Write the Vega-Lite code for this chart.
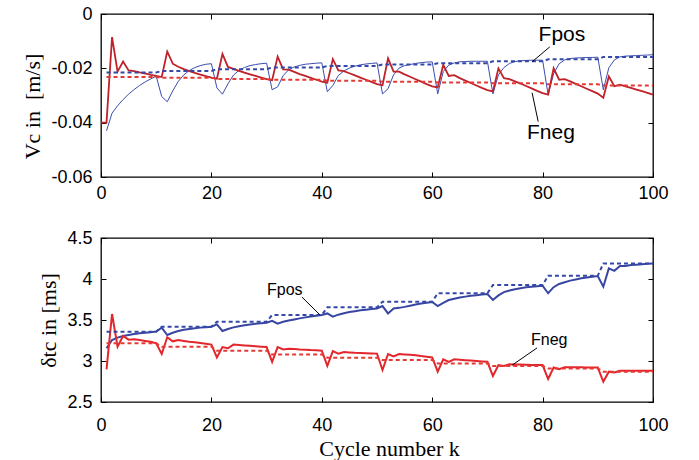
{
  "$schema": "https://vega.github.io/schema/vega-lite/v6.json",
  "background": "white",
  "padding": {"left": 21, "top": 4, "right": 5, "bottom": 1},
  "datasets": {
    "tpos": [
      {"k":1,"v":-0.0430},{"k":2,"v":-0.0365},{"k":3,"v":-0.0338},{"k":4,"v":-0.0315},{"k":5,"v":-0.0295},{"k":6,"v":-0.0278},{"k":7,"v":-0.0263},{"k":8,"v":-0.0250},{"k":9,"v":-0.0239},{"k":10,"v":-0.0229},
      {"k":11,"v":-0.0304},{"k":12,"v":-0.0323},{"k":13,"v":-0.0283},{"k":14,"v":-0.0248},{"k":15,"v":-0.0224},{"k":16,"v":-0.0208},{"k":17,"v":-0.0197},{"k":18,"v":-0.0190},{"k":19,"v":-0.0185},{"k":20,"v":-0.0183},
      {"k":21,"v":-0.0272},{"k":22,"v":-0.0295},{"k":23,"v":-0.0257},{"k":24,"v":-0.0225},{"k":25,"v":-0.0207},{"k":26,"v":-0.0197},{"k":27,"v":-0.0190},{"k":28,"v":-0.0186},{"k":29,"v":-0.0183},{"k":30,"v":-0.0181},
      {"k":31,"v":-0.0279},{"k":32,"v":-0.0268},{"k":33,"v":-0.0227},{"k":34,"v":-0.0205},{"k":35,"v":-0.0195},{"k":36,"v":-0.0189},{"k":37,"v":-0.0185},{"k":38,"v":-0.0183},{"k":39,"v":-0.0181},{"k":40,"v":-0.0180},
      {"k":41,"v":-0.0286},{"k":42,"v":-0.0263},{"k":43,"v":-0.0226},{"k":44,"v":-0.0210},{"k":45,"v":-0.0199},{"k":46,"v":-0.0192},{"k":47,"v":-0.0187},{"k":48,"v":-0.0184},{"k":49,"v":-0.0182},{"k":50,"v":-0.0180},
      {"k":51,"v":-0.0294},{"k":52,"v":-0.0275},{"k":53,"v":-0.0224},{"k":54,"v":-0.0199},{"k":55,"v":-0.0190},{"k":56,"v":-0.0186},{"k":57,"v":-0.0182},{"k":58,"v":-0.0179},{"k":59,"v":-0.0177},{"k":60,"v":-0.0176},
      {"k":61,"v":-0.0294},{"k":62,"v":-0.0212},{"k":63,"v":-0.0188},{"k":64,"v":-0.0180},{"k":65,"v":-0.0176},{"k":66,"v":-0.0175},{"k":67,"v":-0.0174},{"k":68,"v":-0.0174},{"k":69,"v":-0.0174},{"k":70,"v":-0.0174},
      {"k":71,"v":-0.0294},{"k":72,"v":-0.0224},{"k":73,"v":-0.0197},{"k":74,"v":-0.0182},{"k":75,"v":-0.0175},{"k":76,"v":-0.0172},{"k":77,"v":-0.0171},{"k":78,"v":-0.0170},{"k":79,"v":-0.0170},{"k":80,"v":-0.0170},
      {"k":81,"v":-0.0297},{"k":82,"v":-0.0220},{"k":83,"v":-0.0183},{"k":84,"v":-0.0169},{"k":85,"v":-0.0164},{"k":86,"v":-0.0162},{"k":87,"v":-0.0161},{"k":88,"v":-0.0160},{"k":89,"v":-0.0160},{"k":90,"v":-0.0159},
      {"k":91,"v":-0.0279},{"k":92,"v":-0.0198},{"k":93,"v":-0.0169},{"k":94,"v":-0.0158},{"k":95,"v":-0.0155},{"k":96,"v":-0.0154},{"k":97,"v":-0.0153},{"k":98,"v":-0.0152},{"k":99,"v":-0.0151},{"k":100,"v":-0.0150}
    ],
    "tneg": [
      {"k":0,"v":-0.0400},{"k":1,"v":-0.0400},{"k":2,"v":-0.0085},{"k":3,"v":-0.0212},{"k":4,"v":-0.0175},{"k":5,"v":-0.0208},{"k":6,"v":-0.0210},{"k":7,"v":-0.0215},{"k":8,"v":-0.0219},{"k":9,"v":-0.0224},{"k":10,"v":-0.0228},
      {"k":11,"v":-0.0232},{"k":12,"v":-0.0138},{"k":13,"v":-0.0183},{"k":14,"v":-0.0194},{"k":15,"v":-0.0203},{"k":16,"v":-0.0210},{"k":17,"v":-0.0217},{"k":18,"v":-0.0223},{"k":19,"v":-0.0229},{"k":20,"v":-0.0234},
      {"k":21,"v":-0.0238},{"k":22,"v":-0.0147},{"k":23,"v":-0.0195},{"k":24,"v":-0.0202},{"k":25,"v":-0.0209},{"k":26,"v":-0.0216},{"k":27,"v":-0.0222},{"k":28,"v":-0.0228},{"k":29,"v":-0.0234},{"k":30,"v":-0.0240},
      {"k":31,"v":-0.0244},{"k":32,"v":-0.0157},{"k":33,"v":-0.0204},{"k":34,"v":-0.0205},{"k":35,"v":-0.0213},{"k":36,"v":-0.0221},{"k":37,"v":-0.0228},{"k":38,"v":-0.0235},{"k":39,"v":-0.0242},{"k":40,"v":-0.0249},
      {"k":41,"v":-0.0253},{"k":42,"v":-0.0166},{"k":43,"v":-0.0208},{"k":44,"v":-0.0210},{"k":45,"v":-0.0218},{"k":46,"v":-0.0226},{"k":47,"v":-0.0234},{"k":48,"v":-0.0242},{"k":49,"v":-0.0250},{"k":50,"v":-0.0258},
      {"k":51,"v":-0.0262},{"k":52,"v":-0.0163},{"k":53,"v":-0.0212},{"k":54,"v":-0.0212},{"k":55,"v":-0.0222},{"k":56,"v":-0.0231},{"k":57,"v":-0.0240},{"k":58,"v":-0.0249},{"k":59,"v":-0.0258},{"k":60,"v":-0.0266},
      {"k":61,"v":-0.0270},{"k":62,"v":-0.0187},{"k":63,"v":-0.0228},{"k":64,"v":-0.0225},{"k":65,"v":-0.0236},{"k":66,"v":-0.0245},{"k":67,"v":-0.0254},{"k":68,"v":-0.0263},{"k":69,"v":-0.0272},{"k":70,"v":-0.0280},
      {"k":71,"v":-0.0285},{"k":72,"v":-0.0200},{"k":73,"v":-0.0236},{"k":74,"v":-0.0240},{"k":75,"v":-0.0248},{"k":76,"v":-0.0256},{"k":77,"v":-0.0265},{"k":78,"v":-0.0274},{"k":79,"v":-0.0283},{"k":80,"v":-0.0291},
      {"k":81,"v":-0.0297},{"k":82,"v":-0.0200},{"k":83,"v":-0.0242},{"k":84,"v":-0.0240},{"k":85,"v":-0.0248},{"k":86,"v":-0.0257},{"k":87,"v":-0.0266},{"k":88,"v":-0.0275},{"k":89,"v":-0.0284},{"k":90,"v":-0.0293},
      {"k":91,"v":-0.0308},{"k":92,"v":-0.0230},{"k":93,"v":-0.0266},{"k":94,"v":-0.0260},{"k":95,"v":-0.0266},{"k":96,"v":-0.0272},{"k":97,"v":-0.0278},{"k":98,"v":-0.0284},{"k":99,"v":-0.0290},{"k":100,"v":-0.0297}
    ],
    "tposd": [
      {"k":1,"v":-0.0215},{"k":10,"v":-0.0215},{"k":11,"v":-0.0210},{"k":20,"v":-0.0210},{"k":21,"v":-0.0203},{"k":30,"v":-0.0203},{"k":31,"v":-0.0197},{"k":40,"v":-0.0197},{"k":41,"v":-0.0191},{"k":50,"v":-0.0191},
      {"k":51,"v":-0.0186},{"k":60,"v":-0.0186},{"k":61,"v":-0.0181},{"k":70,"v":-0.0181},{"k":71,"v":-0.0174},{"k":80,"v":-0.0174},{"k":81,"v":-0.0167},{"k":90,"v":-0.0167},{"k":91,"v":-0.0158},{"k":100,"v":-0.0158}
    ],
    "tnegd": [
      {"k":1,"v":-0.0232},{"k":10,"v":-0.0232},{"k":11,"v":-0.0235},{"k":20,"v":-0.0235},{"k":21,"v":-0.0239},{"k":30,"v":-0.0239},{"k":31,"v":-0.0242},{"k":40,"v":-0.0242},{"k":41,"v":-0.0246},{"k":50,"v":-0.0246},
      {"k":51,"v":-0.0249},{"k":60,"v":-0.0249},{"k":61,"v":-0.0252},{"k":70,"v":-0.0252},{"k":71,"v":-0.0255},{"k":80,"v":-0.0255},{"k":81,"v":-0.0259},{"k":90,"v":-0.0259},{"k":91,"v":-0.0263},{"k":100,"v":-0.0263}
    ],
    "bpos": [
      {"k":1,"v":3.155},{"k":2,"v":3.256},{"k":3,"v":3.285},{"k":4,"v":3.305},{"k":5,"v":3.318},{"k":6,"v":3.328},{"k":7,"v":3.337},{"k":8,"v":3.345},{"k":9,"v":3.352},{"k":10,"v":3.360},
      {"k":11,"v":3.406},{"k":12,"v":3.317},{"k":13,"v":3.345},{"k":14,"v":3.365},{"k":15,"v":3.380},{"k":16,"v":3.390},{"k":17,"v":3.400},{"k":18,"v":3.407},{"k":19,"v":3.413},{"k":20,"v":3.418},
      {"k":21,"v":3.447},{"k":22,"v":3.366},{"k":23,"v":3.390},{"k":24,"v":3.410},{"k":25,"v":3.425},{"k":26,"v":3.437},{"k":27,"v":3.446},{"k":28,"v":3.454},{"k":29,"v":3.461},{"k":30,"v":3.467},
      {"k":31,"v":3.490},{"k":32,"v":3.456},{"k":33,"v":3.478},{"k":34,"v":3.493},{"k":35,"v":3.507},{"k":36,"v":3.520},{"k":37,"v":3.532},{"k":38,"v":3.542},{"k":39,"v":3.552},{"k":40,"v":3.561},
      {"k":41,"v":3.580},{"k":42,"v":3.540},{"k":43,"v":3.565},{"k":44,"v":3.583},{"k":45,"v":3.597},{"k":46,"v":3.608},{"k":47,"v":3.618},{"k":48,"v":3.626},{"k":49,"v":3.633},{"k":50,"v":3.640},
      {"k":51,"v":3.670},{"k":52,"v":3.580},{"k":53,"v":3.640},{"k":54,"v":3.648},{"k":55,"v":3.660},{"k":56,"v":3.675},{"k":57,"v":3.690},{"k":58,"v":3.700},{"k":59,"v":3.710},{"k":60,"v":3.720},
      {"k":61,"v":3.670},{"k":62,"v":3.710},{"k":63,"v":3.744},{"k":64,"v":3.760},{"k":65,"v":3.775},{"k":66,"v":3.785},{"k":67,"v":3.795},{"k":68,"v":3.803},{"k":69,"v":3.810},{"k":70,"v":3.817},
      {"k":71,"v":3.744},{"k":72,"v":3.800},{"k":73,"v":3.840},{"k":74,"v":3.860},{"k":75,"v":3.875},{"k":76,"v":3.888},{"k":77,"v":3.898},{"k":78,"v":3.905},{"k":79,"v":3.912},{"k":80,"v":3.918},
      {"k":81,"v":3.826},{"k":82,"v":3.900},{"k":83,"v":3.940},{"k":84,"v":3.960},{"k":85,"v":3.980},{"k":86,"v":3.995},{"k":87,"v":4.008},{"k":88,"v":4.018},{"k":89,"v":4.028},{"k":90,"v":4.037},
      {"k":91,"v":3.906},{"k":92,"v":4.130},{"k":93,"v":4.100},{"k":94,"v":4.160},{"k":95,"v":4.160},{"k":96,"v":4.170},{"k":97,"v":4.175},{"k":98,"v":4.180},{"k":99,"v":4.185},{"k":100,"v":4.190}
    ],
    "bneg": [
      {"k":1,"v":2.898},{"k":2,"v":3.573},{"k":3,"v":3.174},{"k":4,"v":3.305},{"k":5,"v":3.260},{"k":6,"v":3.265},{"k":7,"v":3.255},{"k":8,"v":3.245},{"k":9,"v":3.235},{"k":10,"v":3.215},
      {"k":11,"v":3.085},{"k":12,"v":3.289},{"k":13,"v":3.240},{"k":14,"v":3.256},{"k":15,"v":3.245},{"k":16,"v":3.235},{"k":17,"v":3.228},{"k":18,"v":3.220},{"k":19,"v":3.210},{"k":20,"v":3.200},
      {"k":21,"v":3.044},{"k":22,"v":3.170},{"k":23,"v":3.155},{"k":24,"v":3.200},{"k":25,"v":3.195},{"k":26,"v":3.190},{"k":27,"v":3.185},{"k":28,"v":3.180},{"k":29,"v":3.175},{"k":30,"v":3.170},
      {"k":31,"v":2.990},{"k":32,"v":3.170},{"k":33,"v":3.140},{"k":34,"v":3.150},{"k":35,"v":3.145},{"k":36,"v":3.140},{"k":37,"v":3.138},{"k":38,"v":3.133},{"k":39,"v":3.130},{"k":40,"v":3.125},
      {"k":41,"v":2.940},{"k":42,"v":3.120},{"k":43,"v":3.090},{"k":44,"v":3.110},{"k":45,"v":3.105},{"k":46,"v":3.100},{"k":47,"v":3.098},{"k":48,"v":3.095},{"k":49,"v":3.092},{"k":50,"v":3.090},
      {"k":51,"v":2.890},{"k":52,"v":3.085},{"k":53,"v":3.055},{"k":54,"v":3.085},{"k":55,"v":3.080},{"k":56,"v":3.075},{"k":57,"v":3.070},{"k":58,"v":3.060},{"k":59,"v":3.052},{"k":60,"v":3.044},
      {"k":61,"v":2.870},{"k":62,"v":3.020},{"k":63,"v":2.990},{"k":64,"v":3.020},{"k":65,"v":3.015},{"k":66,"v":3.010},{"k":67,"v":3.005},{"k":68,"v":3.000},{"k":69,"v":2.995},{"k":70,"v":2.990},
      {"k":71,"v":2.817},{"k":72,"v":2.950},{"k":73,"v":2.940},{"k":74,"v":2.960},{"k":75,"v":2.958},{"k":76,"v":2.956},{"k":77,"v":2.954},{"k":78,"v":2.952},{"k":79,"v":2.951},{"k":80,"v":2.950},
      {"k":81,"v":2.780},{"k":82,"v":2.920},{"k":83,"v":2.900},{"k":84,"v":2.925},{"k":85,"v":2.925},{"k":86,"v":2.924},{"k":87,"v":2.923},{"k":88,"v":2.922},{"k":89,"v":2.921},{"k":90,"v":2.920},
      {"k":91,"v":2.747},{"k":92,"v":2.870},{"k":93,"v":2.860},{"k":94,"v":2.880},{"k":95,"v":2.880},{"k":96,"v":2.880},{"k":97,"v":2.880},{"k":98,"v":2.880},{"k":99,"v":2.880},{"k":100,"v":2.880}
    ],
    "bposd": [
      {"k":1,"v":3.357},{"k":10,"v":3.357},{"k":11,"v":3.418},{"k":20,"v":3.418},{"k":21,"v":3.479},{"k":30,"v":3.479},{"k":31,"v":3.561},{"k":40,"v":3.561},{"k":41,"v":3.654},{"k":50,"v":3.654},
      {"k":51,"v":3.723},{"k":60,"v":3.723},{"k":61,"v":3.826},{"k":70,"v":3.826},{"k":71,"v":3.927},{"k":80,"v":3.927},{"k":81,"v":4.040},{"k":90,"v":4.040},{"k":91,"v":4.190},{"k":100,"v":4.190}
    ],
    "bnegd": [
      {"k":1,"v":3.216},{"k":10,"v":3.216},{"k":11,"v":3.174},{"k":20,"v":3.174},{"k":21,"v":3.126},{"k":30,"v":3.126},{"k":31,"v":3.080},{"k":40,"v":3.080},{"k":41,"v":3.040},{"k":50,"v":3.040},
      {"k":51,"v":3.012},{"k":60,"v":3.012},{"k":61,"v":2.970},{"k":70,"v":2.970},{"k":71,"v":2.940},{"k":80,"v":2.940},{"k":81,"v":2.910},{"k":90,"v":2.910},{"k":91,"v":2.870},{"k":100,"v":2.870}
    ],
    "tline": [
      {"k":81.3,"v":-0.0121,"k2":78.1,"v2":-0.0176},
      {"k":79.2,"v":-0.0396,"k2":78.1,"v2":-0.0290}
    ],
    "ttext": [
      {"k":83.5,"v":-0.0077,"t":"Fpos"},
      {"k":81.5,"v":-0.0437,"t":"Fneg"}
    ],
    "bline": [
      {"k":36.4,"v":3.78,"k2":39.7,"v2":3.56},
      {"k":79.0,"v":3.16,"k2":74.5,"v2":2.95}
    ],
    "btext": [
      {"k":33.3,"v":3.866,"t":"Fpos"},
      {"k":81.2,"v":3.256,"t":"Fneg"}
    ]
  },
  "config": {
    "view": {"stroke": "black", "strokeWidth": 1.3},
    "axis": {
      "grid": false, "domain": false, "tickColor": "black", "tickSize": -5, "tickWidth": 1,
      "labelFont": "Liberation Sans", "labelFontSize": 18, "labelColor": "black", "labelPadding": 14,
      "labelFlush": false, "labelOverlap": false,
      "titleFont": "Liberation Serif", "titleFontSize": 22, "titleFontWeight": "normal", "titleColor": "black"
    },
    "axisX": {"labelPadding": 12}
  },
  "spacing": 25,
  "vconcat": [
    {
      "width": 552, "height": 163,
      "layer": [
        {
          "encoding": {
            "x": {"field": "k", "type": "quantitative", "scale": {"domain": [0, 100], "nice": false},
                  "axis": {"values": [0, 20, 40, 60, 80, 100], "title": null}},
            "y": {"field": "v", "type": "quantitative", "scale": {"domain": [-0.06, 0], "nice": false},
                  "axis": {"values": [-0.06, -0.04, -0.02, 0], "title": "Vc in\u00a0 [m/s]", "titlePadding": 6, "titleY": 92,
                           "labelExpr": "datum.value == 0 ? '0' : '-' + format(-datum.value, '.2f')"}}
          },
          "layer": [
            {"data": {"name": "tpos"}, "mark": {"type": "line", "color": "#3b4db0", "strokeWidth": 1}},
            {"data": {"name": "tneg"}, "mark": {"type": "line", "color": "#bf2229", "strokeWidth": 1.8}},
            {"data": {"name": "tposd"}, "mark": {"type": "line", "color": "#3448a8", "strokeWidth": 2, "strokeDash": [4, 3]}},
            {"data": {"name": "tnegd"}, "mark": {"type": "line", "color": "#e53a33", "strokeWidth": 2, "strokeDash": [4, 3]}},
            {"data": {"name": "tline"}, "mark": {"type": "rule", "color": "black", "strokeWidth": 1},
             "encoding": {"x2": {"field": "k2"}, "y2": {"field": "v2"}}},
            {"data": {"name": "ttext"}, "mark": {"type": "text", "font": "Liberation Sans", "fontSize": 21, "color": "black", "align": "center", "baseline": "middle"},
             "encoding": {"text": {"field": "t"}}}
          ]
        },
        {
          "data": {"name": "tposd"},
          "mark": {"type": "point", "opacity": 0},
          "encoding": {
            "x": {"field": "k", "type": "quantitative", "scale": {"domain": [0, 100], "nice": false},
                  "axis": {"orient": "top", "values": [0, 20, 40, 60, 80, 100], "labels": false, "title": null}},
            "y": {"field": "v", "type": "quantitative", "scale": {"domain": [-0.06, 0], "nice": false},
                  "axis": {"orient": "right", "values": [-0.06, -0.04, -0.02, 0], "labels": false, "title": null}}
          }
        }
      ],
      "resolve": {"scale": {"x": "independent", "y": "independent"}}
    },
    {
      "width": 552, "height": 164,
      "layer": [
        {
          "encoding": {
            "x": {"field": "k", "type": "quantitative", "scale": {"domain": [0, 100], "nice": false},
                  "axis": {"values": [0, 20, 40, 60, 80, 100], "title": "Cycle number k", "labelPadding": 19, "titlePadding": 4, "titleX": 288}},
            "y": {"field": "v", "type": "quantitative", "scale": {"domain": [2.5, 4.5], "nice": false},
                  "axis": {"values": [2.5, 3, 3.5, 4, 4.5], "title": "δtc in [ms]", "titlePadding": 6,
                           "labelExpr": "'' + datum.value"}}
          },
          "layer": [
            {"data": {"name": "bpos"}, "mark": {"type": "line", "color": "#3846a2", "strokeWidth": 2}},
            {"data": {"name": "bneg"}, "mark": {"type": "line", "color": "#e3262c", "strokeWidth": 2}},
            {"data": {"name": "bposd"}, "mark": {"type": "line", "color": "#3448a8", "strokeWidth": 2, "strokeDash": [4, 3]}},
            {"data": {"name": "bnegd"}, "mark": {"type": "line", "color": "#e53a33", "strokeWidth": 2, "strokeDash": [4, 3]}},
            {"data": {"name": "bline"}, "mark": {"type": "rule", "color": "black", "strokeWidth": 1},
             "encoding": {"x2": {"field": "k2"}, "y2": {"field": "v2"}}},
            {"data": {"name": "btext"}, "mark": {"type": "text", "font": "Liberation Sans", "fontSize": 16, "color": "black", "align": "center", "baseline": "middle"},
             "encoding": {"text": {"field": "t"}}}
          ]
        },
        {
          "data": {"name": "bposd"},
          "mark": {"type": "point", "opacity": 0},
          "encoding": {
            "x": {"field": "k", "type": "quantitative", "scale": {"domain": [0, 100], "nice": false},
                  "axis": {"orient": "top", "values": [0, 20, 40, 60, 80, 100], "labels": false, "title": null}},
            "y": {"field": "v", "type": "quantitative", "scale": {"domain": [2.5, 4.5], "nice": false},
                  "axis": {"orient": "right", "values": [2.5, 3, 3.5, 4, 4.5], "labels": false, "title": null}}
          }
        }
      ],
      "resolve": {"scale": {"x": "independent", "y": "independent"}}
    }
  ]
}
